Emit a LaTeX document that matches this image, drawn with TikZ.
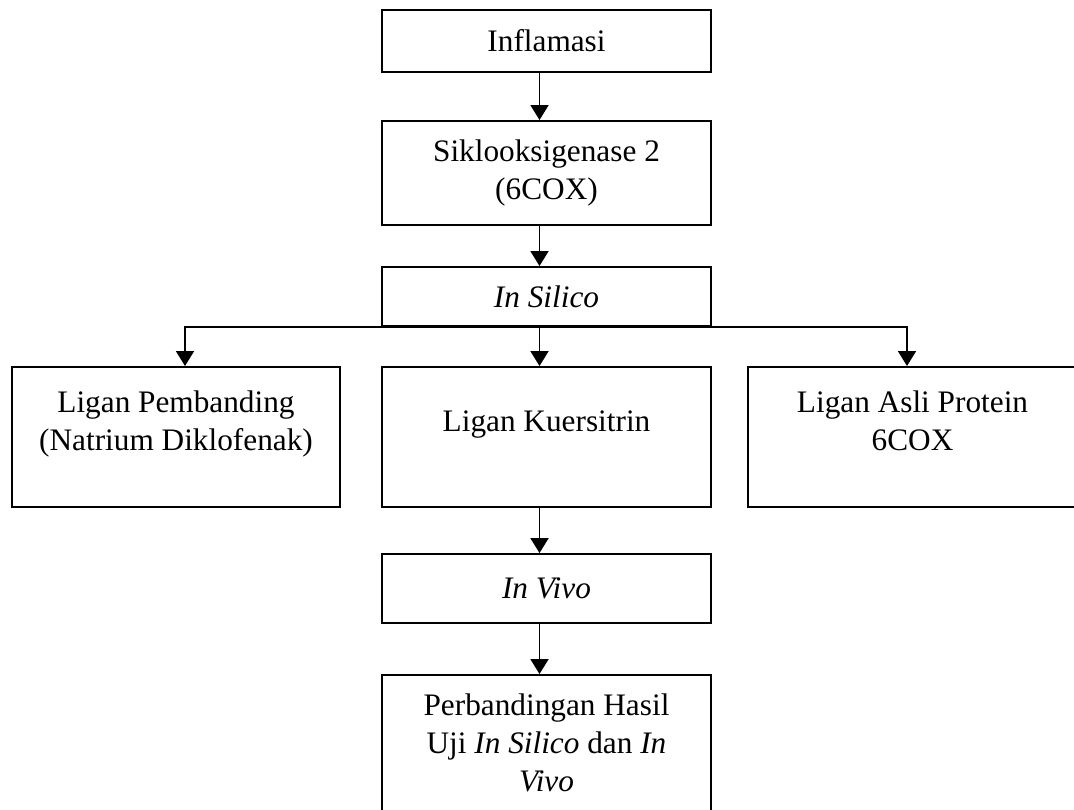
\documentclass[tikz,border=0pt]{standalone}
\usepackage{fontspec}
\setmainfont{Liberation Serif}
\usetikzlibrary{arrows.meta}

\begin{document}
\begin{tikzpicture}[
  kotak/.style={draw,line width=1.1pt,minimum width=6.58cm,inner sep=0pt,align=center,font=\fontsize{17.8}{21.6}\selectfont},
  teks/.style={inner sep=0pt,align=center,anchor=north,font=\fontsize{17.8}{21.6}\selectfont},
  panah/.style={-{Triangle[length=0.3cm,width=0.36cm]},line width=1.1pt}
]
  \useasboundingbox (0,0) rectangle (21.48,16.2);
  \clip (0,0) rectangle (21.48,16.2);
  % kolom tengah
  \node[kotak,minimum height=1.24cm] (inflamasi) at (10.93,15.38) {Inflamasi};
  \node[kotak,minimum height=2.08cm] (siklo) at (10.93,12.74) {Siklooksigenase 2\\(6COX)};
  \node[kotak,minimum height=1.18cm] (insilico) at (10.93,10.27) {\textit{In Silico}};
  % tiga ligan
  \node[kotak,minimum width=6.56cm,minimum height=2.8cm] (pemb) at (3.52,7.46) {};
  \node[kotak,minimum height=2.8cm] (kuer) at (10.93,7.46) {};
  \node[kotak,minimum height=2.8cm] (asli) at (18.25,7.46) {};
  \node[teks] (pembteks) at ([yshift=-0.49cm]pemb.north) {Ligan Pembanding\\(Natrium Diklofenak)};
  \node[teks] (kuerteks) at ([yshift=-0.89cm]kuer.north) {Ligan Kuersitrin};
  \node[teks] (asliteks) at ([yshift=-0.49cm]asli.north) {Ligan Asli Protein\\6COX};
  % in vivo dan hasil
  \node[kotak,minimum height=1.38cm] (invivo) at (10.93,4.43) {\textit{In Vivo}};
  \node[kotak,minimum height=3.6cm] (hasil) at (10.93,0.9) {};
  \node[teks] (hasilteks) at ([yshift=-0.39cm]hasil.north) {Perbandingan Hasil\\Uji \textit{In Silico} dan \textit{In}\\\textit{Vivo}};
  % panah
  \draw[panah] ([xshift=-0.14cm]inflamasi.south) -- ([xshift=-0.14cm]siklo.north);
  \draw[panah] ([xshift=-0.14cm]siklo.south) -- ([xshift=-0.14cm]insilico.north);
  \draw[panah] ([xshift=-0.14cm]insilico.south) -- ([xshift=-0.14cm]kuer.north);
  \draw[panah] ([xshift=-0.14cm]insilico.south) -| ([xshift=0.18cm]pemb.north);
  \draw[panah] ([xshift=-0.14cm]insilico.south) -| ([xshift=-0.11cm]asli.north);
  \draw[panah] ([xshift=-0.14cm]kuer.south) -- ([xshift=-0.14cm]invivo.north);
  \draw[panah] ([xshift=-0.14cm]invivo.south) -- ([xshift=-0.14cm]hasil.north);
\end{tikzpicture}
\end{document}
